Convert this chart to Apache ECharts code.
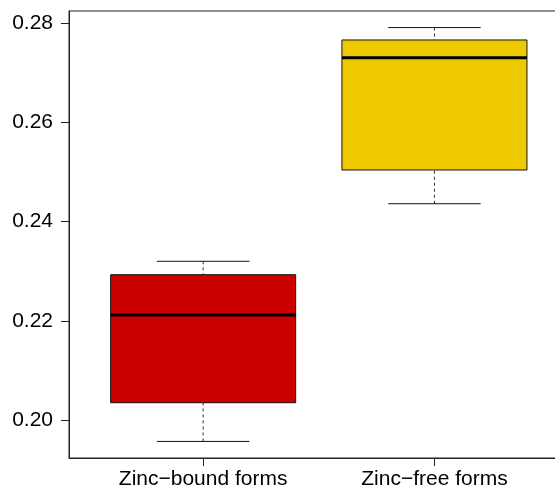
<!DOCTYPE html>
<html>
<head>
<meta charset="utf-8">
<script src="https://cdn.jsdelivr.net/npm/echarts@6/dist/echarts.min.js"></script>
<style>
  html, body { margin: 0; padding: 0; background: #fff; }
  #chart { width: 555px; height: 490px; }
</style>
</head>
<body>
<div id="chart"></div>
<script>
// Five-number summaries for each group
const categories = ['Zinc\u2212bound forms', 'Zinc\u2212free forms'];
const lowerWhisker = [0.1957, 0.2436];
const lowerQuartile = [0.2035, 0.2504];
const medianValue = [0.2212, 0.2730];
const upperQuartile = [0.2293, 0.2766];
const upperWhisker = [0.2320, 0.2791];
const boxColors = ['#CD0000', '#EEC900'];
const yTicks = [0.20, 0.22, 0.24, 0.26, 0.28];

const BOX_HALF = 0.4;    // half box width in x units
const CAP_HALF = 0.2;    // half staple width in x units
const FONT = '"Liberation Sans", Arial, Helvetica, sans-serif';

const rows = categories.map((c, i) => [i + 1, lowerWhisker[i], lowerQuartile[i], medianValue[i], upperQuartile[i], upperWhisker[i]]);

function renderBox(params, api) {
  const i = params.dataIndex;
  const x = api.value(0);
  const lo = api.value(1), q1 = api.value(2), md = api.value(3), q3 = api.value(4), hi = api.value(5);
  const pLo = api.coord([x, lo]), pQ1 = api.coord([x, q1]), pMd = api.coord([x, md]);
  const pQ3 = api.coord([x, q3]), pHi = api.coord([x, hi]);
  const bl = api.coord([x - BOX_HALF, q3]), br = api.coord([x + BOX_HALF, q1]);
  const cl = api.coord([x - CAP_HALF, lo])[0], cr = api.coord([x + CAP_HALF, lo])[0];
  const dashStyle = { stroke: '#333', lineWidth: 1, lineDash: [3, 3] };
  const solid = { stroke: '#111', lineWidth: 1 };
  return {
    type: 'group',
    children: [
      { type: 'line', shape: { x1: pHi[0], y1: pHi[1], x2: pQ3[0], y2: pQ3[1] }, style: dashStyle },
      { type: 'line', shape: { x1: pLo[0], y1: pLo[1], x2: pQ1[0], y2: pQ1[1] }, style: dashStyle },
      { type: 'line', shape: { x1: cl, y1: pHi[1], x2: cr, y2: pHi[1] }, style: solid },
      { type: 'line', shape: { x1: cl, y1: pLo[1], x2: cr, y2: pLo[1] }, style: solid },
      { type: 'rect', shape: { x: bl[0], y: bl[1], width: br[0] - bl[0], height: br[1] - bl[1] },
        style: { fill: boxColors[i], stroke: '#111', lineWidth: 1 } },
      { type: 'line', shape: { x1: bl[0], y1: pMd[1], x2: br[0], y2: pMd[1] },
        style: { stroke: '#000', lineWidth: 3 } }
    ]
  };
}

const chart = echarts.init(document.getElementById('chart'), null, { renderer: 'canvas' });
chart.setOption({
  animation: false,
  backgroundColor: '#fff',
  grid: {
    left: 69, top: 11, width: 499.6, height: 447,
    outerBoundsMode: 'none', containLabel: false,
    show: true, borderColor: '#222', borderWidth: 1, backgroundColor: 'transparent'
  },
  xAxis: {
    type: 'value', min: 0.42, max: 2.58,
    axisLine: { show: true, onZero: false, lineStyle: { color: '#222', width: 1 } },
    axisTick: { show: true, length: 8, customValues: [1, 2], lineStyle: { color: '#222' } },
    axisLabel: { customValues: [1, 2], formatter: v => categories[Math.round(v) - 1], color: '#000', fontSize: 21, fontFamily: FONT, margin: 11 },
    splitLine: { show: false }
  },
  yAxis: {
    type: 'value', min: 0.19236, max: 0.28244,
    axisLine: { show: true, lineStyle: { color: '#222', width: 1 } },
    axisTick: { show: true, length: 8, customValues: yTicks, lineStyle: { color: '#222' } },
    axisLabel: { customValues: yTicks, formatter: v => v.toFixed(2), color: '#000', fontSize: 21, fontFamily: FONT, margin: 16 },
    splitLine: { show: false }
  },
  series: [{
    type: 'custom',
    renderItem: renderBox,
    encode: { x: 0, y: [1, 2, 3, 4, 5] },
    data: rows,
    clip: false
  }]
});
</script>
</body>
</html>
